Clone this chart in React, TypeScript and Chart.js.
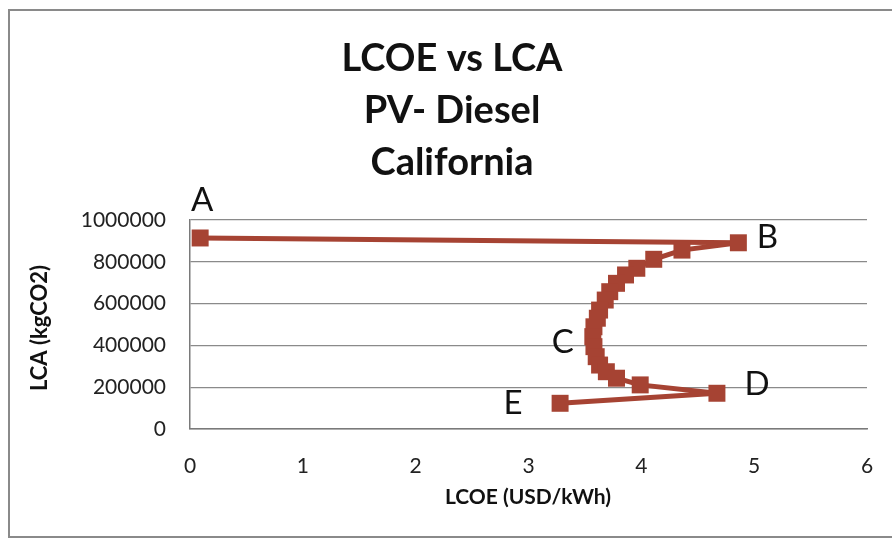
import React, { useEffect, useRef } from "react";
import { Chart, registerables } from "chart.js";

Chart.register(...registerables);

const titleLines = ["LCOE vs LCA", "PV- Diesel", "California"];
const xAxisTitle = "LCOE (USD/kWh)";
const yAxisTitle = "LCA (kgCO2)";

// LCOE (USD/kWh)
const lcoe = [
  0.09, 4.86, 4.36, 4.11, 3.96, 3.86, 3.78, 3.72, 3.68, 3.63, 3.61, 3.58, 3.57,
  3.58, 3.6, 3.63, 3.69, 3.78, 3.99, 4.67, 3.28,
];
// LCA (kgCO2)
const lca = [
  914000, 891000, 856000, 812000, 769000, 737000, 697000, 657000, 617000,
  569000, 530000, 489000, 442000, 394000, 346000, 306000, 274000, 243000,
  211000, 171000, 123000,
];

// point labels: index into series and label text
const pointLabels = [
  { idx: 0, text: "A", dx: 2, dy: -38 },
  { idx: 1, text: "B", dx: 29, dy: -5 },
  { idx: 12, text: "C", dx: -30, dy: 6 },
  { idx: 19, text: "D", dx: 40, dy: -9 },
  { idx: 20, text: "E", dx: -47, dy: 0 },
];

const xTicks = [0, 1, 2, 3, 4, 5, 6];
const yTicks = [0, 200000, 400000, 600000, 800000, 1000000];

const FONT = "Lato, 'Open Sans', sans-serif";
const COLOR = "#A64333";

export default function App() {
  const ref = useRef<HTMLCanvasElement | null>(null);

  useEffect(() => {
    document.body.style.margin = "0";
    const canvas = ref.current!;
    const points = lcoe.map((x, i) => ({ x, y: lca[i] }));

    const overlay = {
      id: "overlay",
      beforeDraw(chart: any) {
        const ctx = chart.ctx;
        ctx.save();
        ctx.fillStyle = "#ffffff";
        ctx.fillRect(0, 0, chart.width, chart.height);
        ctx.strokeStyle = "#8a8a8a";
        ctx.lineWidth = 2;
        ctx.strokeRect(9, 10, 900, 527);
        ctx.restore();
      },
      afterDraw(chart: any) {
        const ctx = chart.ctx;
        const xs = chart.scales.x;
        const ys = chart.scales.y;
        ctx.save();
        ctx.fillStyle = "#111111";
        ctx.textAlign = "center";
        ctx.textBaseline = "middle";
        ctx.font = `bold 38px ${FONT}`;
        titleLines.forEach((t, i) => {
          ctx.fillText(t, 452, 59 + i * 52);
        });
        ctx.font = `bold 21px ${FONT}`;
        ctx.fillText(xAxisTitle, 528, 497);
        ctx.save();
        ctx.translate(40, 328);
        ctx.rotate(-Math.PI / 2);
        ctx.font = `bold 22px ${FONT}`;
        ctx.fillText(yAxisTitle, 0, 0);
        ctx.restore();
        ctx.font = `33px ${FONT}`;
        pointLabels.forEach((p) => {
          const px = xs.getPixelForValue(lcoe[p.idx]);
          const py = ys.getPixelForValue(lca[p.idx]);
          ctx.fillText(p.text, px + p.dx, py + p.dy);
        });
        ctx.restore();
      },
    };

    const chart = new Chart(canvas, {
      type: "scatter",
      data: {
        datasets: [
          {
            data: points,
            showLine: true,
            borderColor: COLOR,
            backgroundColor: COLOR,
            borderWidth: 5,
            pointStyle: "rect",
            pointRadius: 12,
            pointHoverRadius: 12,
            pointBorderWidth: 0,
          },
        ],
      },
      options: {
        responsive: false,
        animation: false,
        events: [],
        layout: { padding: { top: 220, right: 25, left: 0, bottom: 0 } },
        plugins: {
          legend: { display: false },
          tooltip: { enabled: false },
        },
        scales: {
          x: {
            type: "linear",
            min: 0,
            max: 6,
            afterBuildTicks: (s: any) => {
              s.ticks = xTicks.map((v) => ({ value: v }));
            },
            afterFit: (s: any) => {
              s.height = 111;
            },
            grid: {
              display: true,
              drawOnChartArea: false,
              drawTicks: true,
              tickLength: 22,
              tickColor: "rgba(0,0,0,0)",
            },
            border: { display: true, color: "#7a7a7a", width: 1.5 },
            ticks: {
              padding: 3,
              color: "#222",
              font: { family: FONT, size: 21 },
              maxRotation: 0,
            },
          },
          y: {
            type: "linear",
            min: 0,
            max: 1000000,
            afterBuildTicks: (s: any) => {
              s.ticks = yTicks.map((v) => ({ value: v }));
            },
            afterFit: (s: any) => {
              s.width = 190;
            },
            grid: { color: "#8a8a8a", lineWidth: 1.3, drawTicks: false },
            border: { display: true, color: "#7a7a7a", width: 1.5 },
            ticks: {
              padding: 24,
              color: "#222",
              font: { family: FONT, size: 21 },
              callback: (v: any) => String(v),
            },
          },
        },
      },
      plugins: [overlay],
    });
    return () => chart.destroy();
  }, []);

  return (
    <div style={{ width: 892, height: 540, position: "relative" }}>
      <canvas ref={ref} width={892} height={540} style={{ width: 892, height: 540, display: "block" }} />
    </div>
  );
}
